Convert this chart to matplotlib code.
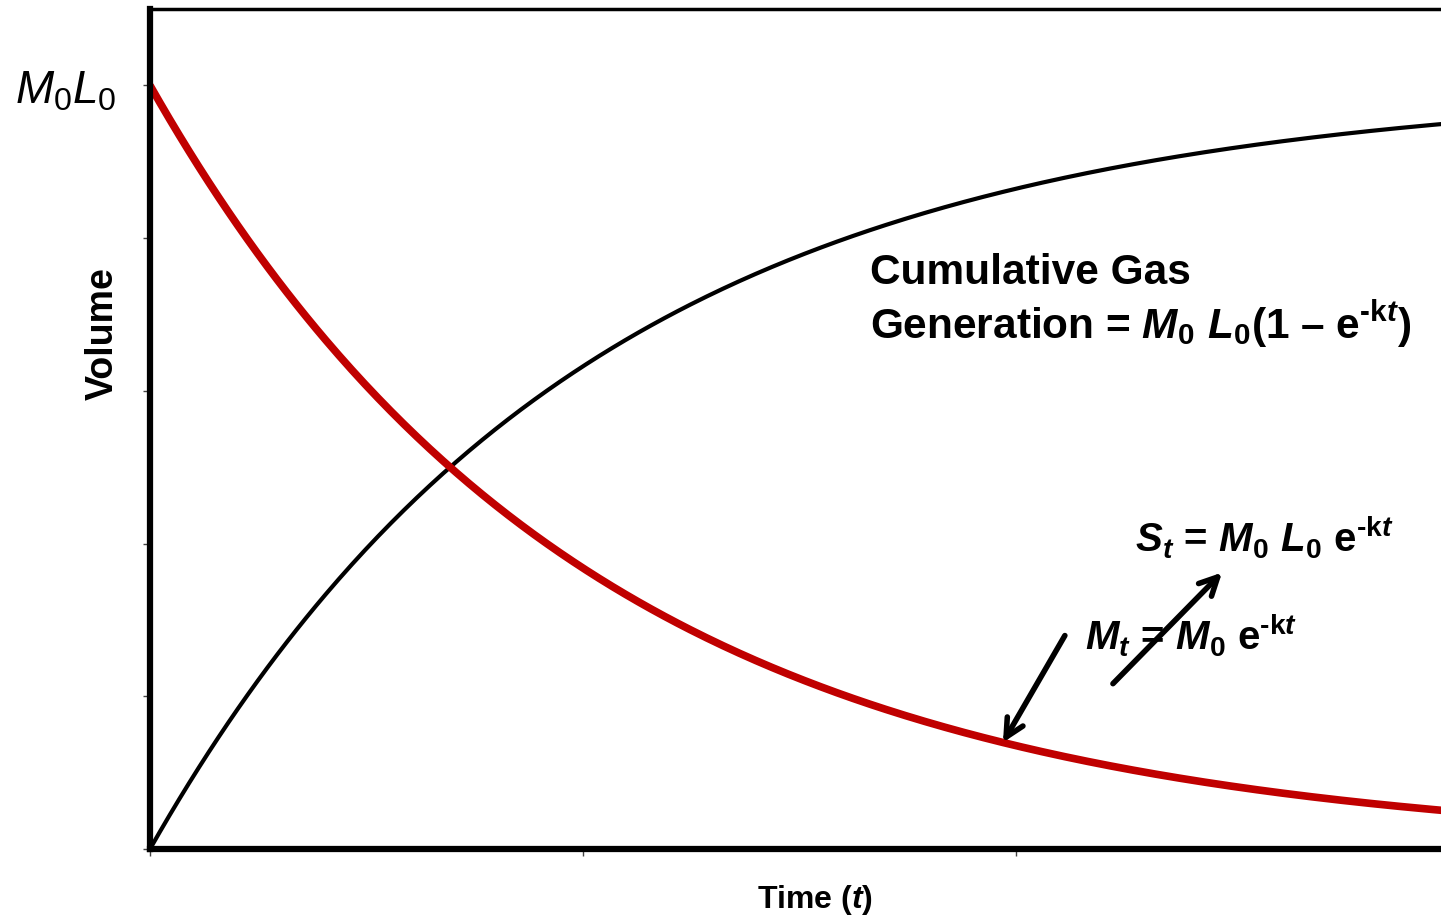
import numpy as np
import matplotlib
matplotlib.use("Agg")
import matplotlib.pyplot as plt

# fonts: Arial-like text, math built from the same family
plt.rcParams['font.family'] = 'Liberation Sans'
plt.rcParams['mathtext.fontset'] = 'custom'
plt.rcParams['mathtext.rm'] = 'Liberation Sans'
plt.rcParams['mathtext.it'] = 'Liberation Sans:italic'
plt.rcParams['mathtext.bf'] = 'Liberation Sans:bold'
plt.rcParams['mathtext.bfit'] = 'Liberation Sans:bold:italic'

# first-order decay model
M0_L0 = 1.0          # total gas potential
k = 1.0              # decay rate
t = np.linspace(0, 3, 400)
remaining = M0_L0 * np.exp(-k * t)             # S_t
cumulative = M0_L0 * (1 - np.exp(-k * t))      # cumulative gas generation

x_ticks = [0, 1, 2, 3]
y_ticks = [0, 0.2, 0.4, 0.6, 0.8, 1.0]
y_tick_labels = ['', '', '', '', '', r'$M_0L_0$']

RED = '#c00000'
EXP = r'$\mathbf{e}^{\mathbf{‐k}\mathbfit{t}}$'   # e^-kt with a short hyphen

fig = plt.figure(figsize=(14.41, 9.2), dpi=100)
ax = fig.add_axes([0.1041, 0.0761, 0.9014, 0.913])

ax.plot(t, cumulative, color='black', lw=3, solid_capstyle='butt')
ax.plot(t, remaining, color=RED, lw=5.5, solid_capstyle='butt')

ax.set_xlim(0, 3)
ax.set_ylim(0, 1.1)
ax.set_xticks(x_ticks)
ax.set_xticklabels([])
ax.set_yticks(y_ticks)
ax.set_yticklabels(y_tick_labels, fontsize=33)
ax.tick_params(direction='out', length=5, width=1, color='#444444', pad=19)

for side in ['left', 'bottom']:
    ax.spines[side].set_linewidth(4.5)
ax.spines['top'].set_linewidth(2.5)
ax.spines['right'].set_visible(False)

ax.set_ylabel('Volume', fontsize=27, fontweight='bold', va='center')
ax.yaxis.set_label_coords(-0.036, 0.615)
ax.set_xlabel(r'Time ($\mathbfit{t}$)', fontsize=23, fontweight='bold', va='center')
ax.xaxis.set_label_coords(0.512, -0.0595)

# equation labels
eq_kw = dict(fontsize=30.5, fontweight='bold', va='center', ha='left')
ax.text(1.663, 0.756, 'Cumulative Gas',
        bbox=dict(boxstyle='square,pad=0.3', fc='white', ec='none'), **eq_kw)
ax.text(1.663, 0.688,
        r'Generation = $\mathbfit{M}_\mathbf{0}\ \mathbfit{L}_\mathbf{0}$(1 – ' + EXP + ')',
        **eq_kw)

small_kw = dict(fontsize=29, fontweight='bold', va='center', ha='left')
ax.text(2.275, 0.411,
        r'$\mathbfit{S}_\mathbfit{t}$ = $\mathbfit{M}_\mathbf{0}\ \mathbfit{L}_\mathbf{0}$ ' + EXP,
        **small_kw)
ax.text(2.159, 0.282, r'$\mathbfit{M}_\mathbfit{t}$ = $\mathbfit{M}_\mathbf{0}$ ' + EXP,
        **small_kw)

arrow_kw = dict(arrowstyle='->,head_length=1.3,head_width=0.65', lw=4,
                color='black', shrinkA=0, shrinkB=0)
tip_t = 1.97
ax.annotate('', xy=(tip_t, M0_L0 * np.exp(-k * tip_t)), xytext=(2.113, 0.2795),
            arrowprops=arrow_kw)
ax.annotate('', xy=(2.476, 0.362), xytext=(2.224, 0.2165), arrowprops=arrow_kw)

fig.savefig('out.png', dpi=100)
